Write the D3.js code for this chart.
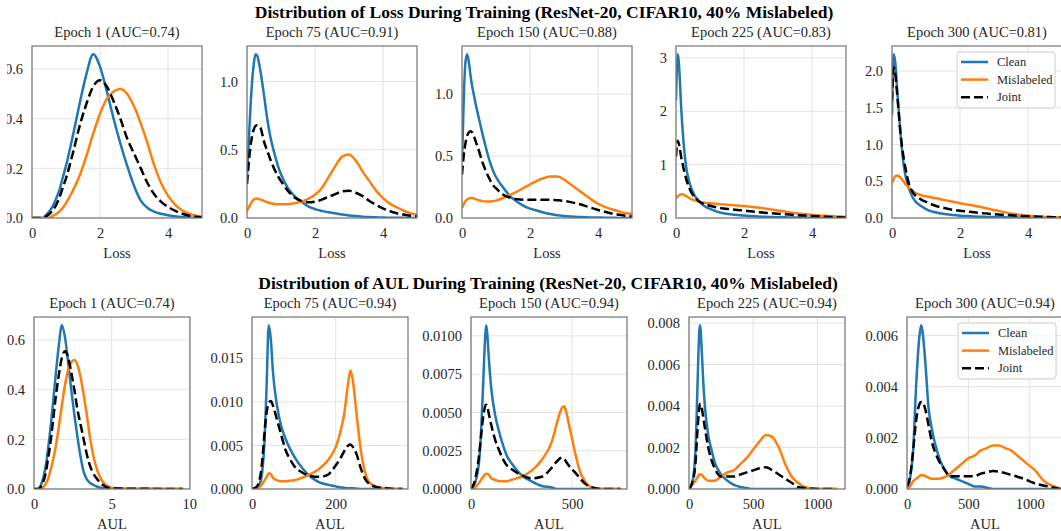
<!DOCTYPE html>
<html>
<head>
<meta charset="utf-8">
<script src="https://cdn.jsdelivr.net/npm/d3@7"></script>
<style>
  body { margin: 0; background: #fff; }
  svg text { font-family: "Liberation Serif", "Times New Roman", serif; fill: #262626; }
</style>
</head>
<body>
<svg id="chart" width="1061" height="531"></svg>
<script>
// ---- Loss (top row), shared x grid ----
var xLoss = [0,0.05,0.1,0.15,0.2,0.25,0.3,0.35,0.4,0.5,0.6,0.7,0.8,0.9,1.0,1.2,1.4,1.6,1.8,2.0,2.2,2.4,2.6,2.8,3.0,3.2,3.4,3.6,3.8,4.0,4.2,4.4,4.6,4.8,5.0];

var lossE1Clean = [0,0,0,0,0,0,0,0.003,0.01,0.025,0.045,0.075,0.11,0.16,0.21,0.33,0.46,0.58,0.66,0.61,0.51,0.4,0.3,0.21,0.13,0.07,0.04,0.025,0.017,0.011,0.007,0.004,0.002,0.001,0];
var lossE1Mis = [0,0,0,0,0,0,0,0,0,0,0.008,0.015,0.025,0.04,0.06,0.11,0.17,0.25,0.34,0.42,0.48,0.51,0.52,0.5,0.45,0.38,0.3,0.21,0.14,0.09,0.055,0.032,0.018,0.01,0.005];
var lossE1Joint = [0,0,0,0,0,0,0.002,0.003,0.006,0.015,0.03,0.05,0.08,0.12,0.16,0.26,0.37,0.46,0.53,0.555,0.53,0.47,0.4,0.32,0.26,0.2,0.14,0.095,0.065,0.045,0.03,0.018,0.01,0.005,0.003];

var lossE75Clean = [0.3,0.55,0.8,1.0,1.13,1.2,1.19,1.14,1.07,0.9,0.72,0.58,0.48,0.39,0.32,0.22,0.16,0.12,0.085,0.065,0.052,0.042,0.034,0.026,0.019,0.014,0.01,0.007,0.005,0.003,0.002,0.001,0.001,0,0];
var lossE75Mis = [0.05,0.075,0.1,0.12,0.135,0.14,0.142,0.14,0.135,0.125,0.115,0.108,0.103,0.1,0.1,0.1,0.108,0.12,0.14,0.17,0.22,0.3,0.38,0.45,0.465,0.42,0.34,0.27,0.2,0.145,0.105,0.08,0.055,0.035,0.025];
var lossE75Joint = [0.25,0.4,0.52,0.6,0.65,0.675,0.68,0.675,0.66,0.56,0.49,0.42,0.36,0.31,0.27,0.2,0.15,0.125,0.115,0.12,0.135,0.155,0.175,0.195,0.2,0.185,0.16,0.125,0.095,0.07,0.05,0.035,0.025,0.017,0.012];

var lossE150Clean = [0.45,0.95,1.25,1.32,1.26,1.15,1.06,0.99,0.92,0.8,0.68,0.57,0.47,0.39,0.33,0.25,0.18,0.135,0.1,0.075,0.06,0.045,0.032,0.022,0.016,0.012,0.009,0.007,0.005,0.004,0.003,0.002,0.001,0.001,0];
var lossE150Mis = [0.08,0.11,0.135,0.15,0.158,0.162,0.162,0.158,0.152,0.143,0.136,0.133,0.133,0.135,0.14,0.16,0.185,0.21,0.24,0.27,0.3,0.32,0.335,0.335,0.31,0.27,0.23,0.19,0.15,0.115,0.09,0.07,0.055,0.04,0.032];
var lossE150Joint = [0.35,0.5,0.6,0.66,0.69,0.7,0.69,0.66,0.62,0.54,0.45,0.38,0.32,0.27,0.24,0.19,0.165,0.152,0.148,0.148,0.148,0.148,0.146,0.143,0.138,0.128,0.115,0.1,0.082,0.065,0.05,0.037,0.027,0.018,0.012];

var lossE225Clean = [2.2,3.07,2.75,2.1,1.6,1.22,0.95,0.78,0.65,0.48,0.37,0.3,0.24,0.2,0.17,0.12,0.09,0.07,0.055,0.045,0.037,0.03,0.024,0.019,0.015,0.012,0.009,0.007,0.005,0.004,0.003,0.002,0.001,0.001,0];
var lossE225Mis = [0.36,0.4,0.43,0.445,0.445,0.43,0.41,0.39,0.37,0.34,0.32,0.3,0.29,0.28,0.275,0.265,0.255,0.245,0.235,0.225,0.21,0.195,0.18,0.16,0.14,0.12,0.1,0.085,0.07,0.058,0.048,0.04,0.033,0.028,0.024];
var lossE225Joint = [1.15,1.45,1.35,1.15,1.0,0.85,0.73,0.63,0.55,0.43,0.36,0.3,0.27,0.25,0.23,0.2,0.18,0.165,0.15,0.14,0.125,0.112,0.1,0.09,0.08,0.07,0.06,0.052,0.045,0.038,0.031,0.025,0.019,0.014,0.01];

var lossE300Clean = [1.4,2.23,2.1,1.75,1.45,1.15,0.9,0.7,0.57,0.4,0.29,0.22,0.18,0.15,0.12,0.085,0.065,0.05,0.04,0.032,0.026,0.022,0.018,0.015,0.012,0.01,0.008,0.006,0.005,0.004,0.003,0.002,0.002,0.001,0.001];
var lossE300Mis = [0.48,0.53,0.57,0.58,0.57,0.55,0.52,0.49,0.46,0.41,0.37,0.34,0.32,0.305,0.295,0.275,0.26,0.24,0.22,0.2,0.185,0.17,0.15,0.13,0.11,0.09,0.07,0.055,0.042,0.032,0.024,0.018,0.013,0.01,0.008];
var lossE300Joint = [1.6,2.05,1.95,1.7,1.42,1.15,0.95,0.8,0.67,0.46,0.36,0.3,0.27,0.24,0.22,0.18,0.15,0.13,0.11,0.1,0.09,0.078,0.068,0.06,0.052,0.045,0.04,0.034,0.028,0.023,0.019,0.016,0.013,0.01,0.008];

// ---- AUL (bottom row) ----
// epoch 1: AUL equals the loss, the curves just run further right
var xAulE1 = xLoss.concat([5.5,6,7,8,9,9.6]);
var aulE1Clean = lossE1Clean.concat([0,0,0,0,0,0]);
var aulE1Mis = lossE1Mis.concat([0.003,0.002,0.001,0.001,0,0]);
var aulE1Joint = lossE1Joint.concat([0.002,0.001,0.001,0,0,0]);

var xAulE75 = [0,10,20,25,30,35,40,45,50,60,70,80,90,100,120,140,160,180,200,210,220,230,235,240,250,260,270,280,300,320,340,360];
var aulE75Clean = [0,0.0001,0.0008,0.0022,0.0055,0.012,0.0188,0.0172,0.0135,0.0095,0.0072,0.0058,0.0047,0.0038,0.0024,0.0014,0.0008,0.0005,0.0003,0.0002,0.00015,0.0001,0.0001,0.0001,0.00005,0,0,0,0,0,0,0];
var aulE75Mis = [0,0.0001,0.0003,0.0006,0.001,0.0014,0.0018,0.0017,0.0013,0.001,0.0009,0.0009,0.00095,0.001,0.0013,0.0017,0.0023,0.0032,0.0048,0.0063,0.0085,0.0122,0.0136,0.0128,0.0086,0.0045,0.002,0.0008,0.0002,0.0001,0,0];
var aulE75Joint = [0,0.0002,0.0015,0.0035,0.0065,0.0088,0.0099,0.0101,0.0096,0.0079,0.0062,0.0045,0.0035,0.0027,0.0019,0.0015,0.0014,0.0016,0.0027,0.0034,0.0043,0.005,0.0051,0.0049,0.004,0.0024,0.0012,0.0006,0.0002,0.0001,0,0];

var xAulE150 = [0,20,40,50,60,70,75,80,90,100,120,140,160,180,200,250,300,350,400,425,440,450,460,470,480,500,520,540,560,600,650,700,740];
var aulE150Clean = [0,0.0004,0.0018,0.0038,0.0068,0.0099,0.0107,0.0102,0.0082,0.0066,0.0048,0.0037,0.0028,0.0021,0.0017,0.0009,0.0005,0.0002,0.0001,0,0,0,0,0,0,0,0,0,0,0,0,0,0];
var aulE150Mis = [0,0.0001,0.0004,0.0006,0.0008,0.00095,0.001,0.001,0.0009,0.0007,0.0006,0.0005,0.0005,0.0005,0.0006,0.0008,0.0012,0.0019,0.0031,0.0043,0.005,0.0053,0.0054,0.0051,0.0045,0.0033,0.0021,0.0011,0.0006,0.0001,0,0,0];
var aulE150Joint = [0,0.0006,0.0022,0.0035,0.0047,0.0054,0.0055,0.0054,0.0048,0.0042,0.0032,0.0025,0.0019,0.0015,0.0013,0.0009,0.0007,0.0008,0.0014,0.0018,0.002,0.00205,0.002,0.0018,0.0016,0.0013,0.001,0.0007,0.0004,0.0001,0,0,0];

var xAulE225 = [0,25,50,60,70,80,85,90,100,110,125,150,175,200,250,300,350,400,450,500,550,600,650,700,750,800,850,900,1000,1100,1150];
var aulE225Clean = [0,0.0003,0.0018,0.0036,0.0058,0.0076,0.0079,0.0077,0.0066,0.0053,0.0039,0.0026,0.0019,0.0013,0.0007,0.0004,0.0002,0.0001,0.00005,0,0,0,0,0,0,0,0,0,0,0,0];
var aulE225Mis = [0,0.0002,0.0004,0.0005,0.0006,0.0007,0.0007,0.0007,0.0007,0.0006,0.0005,0.0004,0.0004,0.0004,0.0006,0.0008,0.0009,0.0012,0.0015,0.0019,0.0023,0.0026,0.0025,0.002,0.0012,0.0006,0.0003,0.0001,0,0,0];
var aulE225Joint = [0,0.0003,0.0012,0.0022,0.0032,0.0039,0.0041,0.0041,0.0039,0.0035,0.0029,0.002,0.0014,0.001,0.0006,0.0006,0.0006,0.0007,0.0008,0.0009,0.001,0.00105,0.0009,0.0007,0.0005,0.0003,0.0001,0.00005,0,0,0];

var xAulE300 = [0,25,50,75,100,115,125,150,175,200,250,300,350,400,450,500,550,600,650,700,750,800,850,900,950,1000,1050,1100,1150,1200,1250];
var aulE300Clean = [0,0.0004,0.0015,0.0041,0.0059,0.0064,0.0062,0.0049,0.0032,0.0024,0.0014,0.0008,0.0005,0.0004,0.0003,0.0002,0.0001,0.0001,0.00005,0,0,0,0,0,0,0,0,0,0,0,0];
var aulE300Mis = [0,0.0001,0.0003,0.0004,0.0005,0.00055,0.00055,0.0005,0.00045,0.0004,0.0004,0.00045,0.0006,0.0008,0.001,0.0012,0.0013,0.0015,0.0016,0.0017,0.0017,0.0016,0.0015,0.0013,0.0011,0.0009,0.0007,0.0004,0.0002,0.0001,0];
var aulE300Joint = [0.0001,0.0005,0.0015,0.0027,0.0033,0.0034,0.0034,0.0031,0.0025,0.0019,0.0012,0.0008,0.0005,0.0005,0.0005,0.0005,0.0005,0.0006,0.00065,0.0007,0.00068,0.00062,0.00055,0.00048,0.0004,0.0003,0.0002,0.00015,0.0001,0.00005,0];

var seriesNames = ["Clean", "Mislabeled", "Joint"];
var colors = {Clean: "#1f77b4", Mislabeled: "#ff7f0e", Joint: "#000000"};

var lossPanels = [
    {title: "Epoch 1 (AUC=0.74)", x: xLoss, c: lossE1Clean, m: lossE1Mis, j: lossE1Joint, xMax: 5, xt: [0,2,4], yt: [0,0.2,0.4,0.6], fmt: ".1f"},
    {title: "Epoch 75 (AUC=0.91)", x: xLoss, c: lossE75Clean, m: lossE75Mis, j: lossE75Joint, xMax: 5, xt: [0,2,4], yt: [0,0.5,1.0], fmt: ".1f"},
    {title: "Epoch 150 (AUC=0.88)", x: xLoss, c: lossE150Clean, m: lossE150Mis, j: lossE150Joint, xMax: 5, xt: [0,2,4], yt: [0,0.5,1.0], fmt: ".1f"},
    {title: "Epoch 225 (AUC=0.83)", x: xLoss, c: lossE225Clean, m: lossE225Mis, j: lossE225Joint, xMax: 5, xt: [0,2,4], yt: [0,1,2,3], fmt: "d"},
    {title: "Epoch 300 (AUC=0.81)", x: xLoss, c: lossE300Clean, m: lossE300Mis, j: lossE300Joint, xMax: 5, xt: [0,2,4], yt: [0,0.5,1,1.5,2], fmt: ".1f"}
];
var aulPanels = [
    {title: "Epoch 1 (AUC=0.74)", x: xAulE1, c: aulE1Clean, m: aulE1Mis, j: aulE1Joint, xMax: 10.05, xt: [0,5,10], yt: [0,0.2,0.4,0.6], fmt: ".1f"},
    {title: "Epoch 75 (AUC=0.94)", x: xAulE75, c: aulE75Clean, m: aulE75Mis, j: aulE75Joint, xMax: 373, xt: [0,200], yt: [0,0.005,0.01,0.015], fmt: ".3f"},
    {title: "Epoch 150 (AUC=0.94)", x: xAulE150, c: aulE150Clean, m: aulE150Mis, j: aulE150Joint, xMax: 772, xt: [0,500], yt: [0,0.0025,0.005,0.0075,0.01], fmt: ".4f"},
    {title: "Epoch 225 (AUC=0.94)", x: xAulE225, c: aulE225Clean, m: aulE225Mis, j: aulE225Joint, xMax: 1216, xt: [0,500,1000], yt: [0,0.002,0.004,0.006,0.008], fmt: ".3f"},
    {title: "Epoch 300 (AUC=0.94)", x: xAulE300, c: aulE300Clean, m: aulE300Mis, j: aulE300Joint, xMax: 1271, xt: [0,500,1000], yt: [0,0.002,0.004,0.006], fmt: ".3f"}
];

var rows = [
    {panels: lossPanels, lefts: [32,247,462,676,892], top: 46, w: 170, h: 172, xlabel: "Loss",
     title: "Distribution of Loss During Training (ResNet-20, CIFAR10, 40% Mislabeled)", tx: 544, ty: 18},
    {panels: aulPanels, lefts: [34,252,471,689,907], top: 317, w: 156, h: 172, xlabel: "AUL",
     title: "Distribution of AUL During Training (ResNet-20, CIFAR10, 40% Mislabeled)", tx: 548, ty: 289}
];

var svg = d3.select("#chart");
// the source figure is cropped a few pixels in from its left edge
svg.append("clipPath").attr("id", "figclip")
    .append("rect").attr("x", 7).attr("y", 0).attr("width", 1054).attr("height", 531);
var root = svg.append("g").attr("clip-path", "url(#figclip)");
var clipId = 0;

rows.forEach(function(row) {
    root.append("text")
        .attr("x", row.tx).attr("y", row.ty)
        .attr("text-anchor", "middle")
        .style("font-size", "17.5px").style("font-weight", "bold").style("fill", "#000")
        .text(row.title);

    row.panels.forEach(function(p, i) {
        var g = root.append("g").attr("transform", "translate(" + row.lefts[i] + "," + row.top + ")");
        var w = row.w, h = row.h;
        var yMax = d3.max(p.c.concat(p.m, p.j)) * 1.05;
        var x = d3.scaleLinear().domain([0, p.xMax]).range([0, w]);
        var y = d3.scaleLinear().domain([0, yMax]).range([h, 0]);

        // grid
        g.selectAll(".gx").data(p.xt).enter().append("line")
            .attr("x1", function(d){ return x(d); }).attr("x2", function(d){ return x(d); })
            .attr("y1", 0).attr("y2", h)
            .attr("stroke", "#e3e3e3").attr("stroke-width", 1);
        g.selectAll(".gy").data(p.yt).enter().append("line")
            .attr("x1", 0).attr("x2", w)
            .attr("y1", function(d){ return y(d); }).attr("y2", function(d){ return y(d); })
            .attr("stroke", "#e3e3e3").attr("stroke-width", 1);

        // curves
        var cid = "clip" + (clipId++);
        g.append("clipPath").attr("id", cid).append("rect").attr("width", w).attr("height", h);
        var line = d3.line()
            .x(function(d){ return x(d[0]); })
            .y(function(d){ return y(d[1]); })
            .curve(d3.curveMonotoneX);
        var series = [["Clean", p.c], ["Mislabeled", p.m], ["Joint", p.j]];
        series.forEach(function(s) {
            g.append("path")
                .datum(p.x.map(function(xv, k){ return [xv, s[1][k]]; }))
                .attr("clip-path", "url(#" + cid + ")")
                .attr("d", line)
                .attr("fill", "none")
                .attr("stroke", colors[s[0]])
                .attr("stroke-width", 2.5)
                .attr("stroke-dasharray", s[0] === "Joint" ? "9,4" : null)
                .attr("stroke-linejoin", "round");
        });

        // frame
        g.append("rect").attr("width", w).attr("height", h)
            .attr("fill", "none").attr("stroke", "#7a7a7a").attr("stroke-width", 1.25);

        // axes
        var xa = g.append("g").attr("transform", "translate(0," + h + ")")
            .call(d3.axisBottom(x).tickValues(p.xt).tickSize(0).tickPadding(9.5).tickFormat(d3.format("d")));
        var ya = g.append("g")
            .call(d3.axisLeft(y).tickValues(p.yt).tickSize(0).tickPadding(9).tickFormat(d3.format(p.fmt)));
        [xa, ya].forEach(function(a) {
            a.select(".domain").remove();
            a.attr("font-family", null).attr("font-size", null);
            a.selectAll("text").style("font-size", "14.5px");
        });

        g.append("text").attr("x", w / 2).attr("y", h + 39.5)
            .attr("text-anchor", "middle").style("font-size", "14.5px").text(row.xlabel);
        g.append("text").attr("x", w / 2).attr("y", -9)
            .attr("text-anchor", "middle").style("font-size", "14.5px").text(p.title);

        // legend in the last panel of each row
        if (i === row.panels.length - 1) {
            var lw = 98, lh = 56;
            var lg = g.append("g").attr("transform", "translate(" + (w - 7 - lw) + ",6)");
            lg.append("rect").attr("width", lw).attr("height", lh).attr("rx", 3)
                .attr("fill", "#fff").attr("fill-opacity", 0.8)
                .attr("stroke", "#cccccc").attr("stroke-width", 1);
            seriesNames.forEach(function(name, k) {
                var yy = 10 + k * 17.6;
                lg.append("line").attr("x1", 4).attr("x2", 31).attr("y1", yy).attr("y2", yy)
                    .attr("stroke", colors[name]).attr("stroke-width", 2.5)
                    .attr("stroke-dasharray", name === "Joint" ? "9,4" : null);
                lg.append("text").attr("x", 40).attr("y", yy + 4.2)
                    .style("font-size", "12.5px").text(name);
            });
        }
    });
});
</script>
</body>
</html>
